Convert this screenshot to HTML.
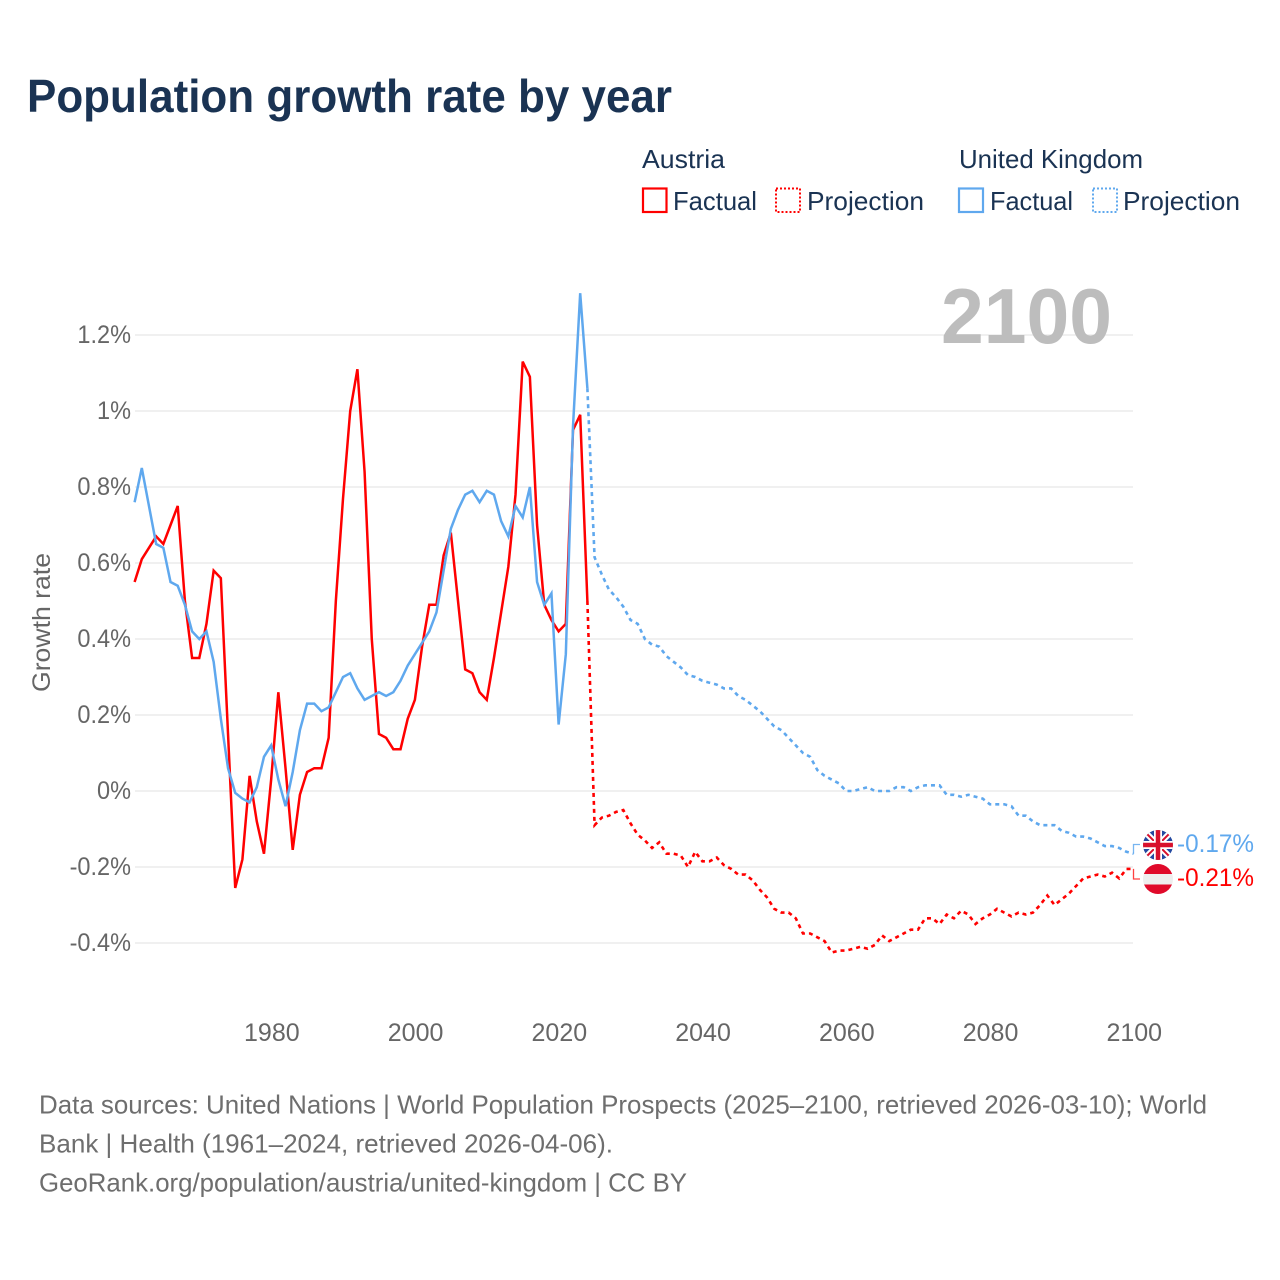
<!DOCTYPE html>
<html lang="en">
<head>
<meta charset="utf-8">
<title>Population growth rate by year</title>
<style>
html,body{margin:0;padding:0;background:#fff;}
svg{display:block;font-family:"Liberation Sans",sans-serif;}
</style>
</head>
<body>
<svg id="chart" xmlns="http://www.w3.org/2000/svg" width="1280" height="1280" viewBox="0 0 1280 1280">
  <rect width="1280" height="1280" fill="#ffffff"/>
  <text x="27" y="112" font-size="46" font-weight="700" fill="#1a3353" textLength="645" lengthAdjust="spacingAndGlyphs">Population growth rate by year</text>

  <g font-size="26" fill="#1a3353">
    <text x="642" y="168" textLength="83" lengthAdjust="spacingAndGlyphs">Austria</text>
    <text x="959" y="168" textLength="184" lengthAdjust="spacingAndGlyphs">United Kingdom</text>
    <rect x="643" y="188.500" width="23.500" height="23.500" fill="none" stroke="#ff0000" stroke-width="2.200"/>
    <text x="673" y="210" textLength="84" lengthAdjust="spacingAndGlyphs">Factual</text>
    <rect x="776" y="188.500" width="24" height="23.500" fill="none" stroke="#ff0000" stroke-width="2" stroke-dasharray="2 2"/>
    <text x="807" y="210" textLength="117" lengthAdjust="spacingAndGlyphs">Projection</text>
    <rect x="959" y="188.500" width="24" height="23.500" fill="none" stroke="#5fa8ee" stroke-width="2.200"/>
    <text x="990" y="210" textLength="83" lengthAdjust="spacingAndGlyphs">Factual</text>
    <rect x="1093" y="188.500" width="24" height="23.500" fill="none" stroke="#5fa8ee" stroke-width="2" stroke-dasharray="2 2"/>
    <text x="1123" y="210" textLength="117" lengthAdjust="spacingAndGlyphs">Projection</text>
  </g>

  <g id="grid"></g>
  <g id="yticks" font-size="25" fill="#666666" text-anchor="end"></g>
  <g id="xticks" font-size="25" fill="#666666" text-anchor="middle"></g>
  <text transform="translate(50 622.500) rotate(-90)" text-anchor="middle" font-size="25" fill="#666666" textLength="139" lengthAdjust="spacingAndGlyphs">Growth rate</text>
  <text x="941" y="343" font-size="78" font-weight="700" fill="#bdbdbd" textLength="171" lengthAdjust="spacingAndGlyphs">2100</text>

  <g id="series"></g>

  <defs>
    <clipPath id="clip-uk"><circle cx="1158" cy="845" r="15"/></clipPath>
    <clipPath id="clip-at"><circle cx="1158" cy="879" r="15"/></clipPath>
  </defs>
  <g clip-path="url(#clip-uk)">
    <rect x="1143" y="830" width="30" height="30" fill="#2449a0"/>
    <path d="M1143 830L1173 860M1173 830L1143 860" stroke="#ffffff" stroke-width="6"/>
    <path d="M1143 830L1173 860M1173 830L1143 860" stroke="#d8102c" stroke-width="2"/>
    <path d="M1158 830V860M1143 845H1173" stroke="#ffffff" stroke-width="8"/>
    <path d="M1158 830V860M1143 845H1173" stroke="#d8102c" stroke-width="4.500"/>
  </g>
  <g clip-path="url(#clip-at)">
    <rect x="1143" y="864" width="30" height="10" fill="#e00a2a"/>
    <rect x="1143" y="874" width="30" height="10.500" fill="#eeeeee"/>
    <rect x="1143" y="884.500" width="30" height="10" fill="#e00a2a"/>
  </g>
  <g id="endlabels" font-size="25"></g>

  <g font-size="26" fill="#6e6e6e">
    <text x="39" y="1113.500" textLength="1168" lengthAdjust="spacingAndGlyphs">Data sources: United Nations | World Population Prospects (2025–2100, retrieved 2026-03-10); World</text>
    <text x="39" y="1152.500" textLength="574" lengthAdjust="spacingAndGlyphs">Bank | Health (1961–2024, retrieved 2026-04-06).</text>
    <text x="39" y="1191.500" textLength="648" lengthAdjust="spacingAndGlyphs">GeoRank.org/population/austria/united-kingdom | CC BY</text>
  </g>
</svg>
<script>
const firstYear = 1961;
const lastFactualYear = 2024;
const xTickYears = [1980, 2000, 2020, 2040, 2060, 2080, 2100];
const yTickValues = [1.2, 1, 0.8, 0.6, 0.4, 0.2, 0, -0.2, -0.4];
const yTickLabels = ['1.2%', '1%', '0.8%', '0.6%', '0.4%', '0.2%', '0%', '-0.2%', '-0.4%'];
const austriaFactual = [0.55,0.61,0.64,0.67,0.65,0.70,0.75,0.50,0.35,0.35,0.44,0.58,0.56,0.15,-0.255,-0.18,0.04,-0.08,-0.165,0.03,0.26,0.06,-0.155,-0.01,0.05,0.06,0.06,0.14,0.50,0.77,1.00,1.11,0.84,0.40,0.15,0.14,0.11,0.11,0.19,0.24,0.38,0.49,0.49,0.62,0.68,0.50,0.32,0.31,0.26,0.24,0.35,0.47,0.59,0.78,1.13,1.09,0.70,0.49,0.45,0.42,0.44,0.95,0.99,0.50];
const austriaProjection = [0.50,-0.09,-0.07,-0.065,-0.055,-0.05,-0.085,-0.115,-0.13,-0.15,-0.135,-0.165,-0.165,-0.17,-0.20,-0.16,-0.185,-0.185,-0.175,-0.195,-0.205,-0.22,-0.22,-0.235,-0.26,-0.28,-0.31,-0.32,-0.32,-0.335,-0.375,-0.375,-0.385,-0.395,-0.425,-0.42,-0.42,-0.415,-0.41,-0.415,-0.405,-0.38,-0.395,-0.385,-0.375,-0.365,-0.365,-0.335,-0.335,-0.35,-0.325,-0.335,-0.315,-0.325,-0.35,-0.335,-0.325,-0.31,-0.32,-0.33,-0.32,-0.325,-0.32,-0.30,-0.275,-0.30,-0.285,-0.27,-0.25,-0.23,-0.225,-0.22,-0.225,-0.215,-0.23,-0.205,-0.205];
const ukFactual = [0.76,0.85,0.75,0.65,0.64,0.55,0.54,0.49,0.42,0.40,0.42,0.34,0.19,0.06,-0.005,-0.02,-0.03,0.01,0.09,0.12,0.03,-0.04,0.05,0.16,0.23,0.23,0.21,0.22,0.26,0.30,0.31,0.27,0.24,0.25,0.26,0.25,0.26,0.29,0.33,0.36,0.39,0.42,0.47,0.58,0.69,0.74,0.78,0.79,0.76,0.79,0.78,0.71,0.67,0.75,0.72,0.80,0.55,0.49,0.52,0.175,0.36,0.96,1.31,1.06];
const ukProjection = [1.06,0.615,0.57,0.53,0.51,0.485,0.45,0.44,0.40,0.385,0.38,0.355,0.34,0.325,0.305,0.30,0.29,0.285,0.28,0.27,0.27,0.25,0.24,0.225,0.21,0.19,0.17,0.16,0.14,0.12,0.10,0.09,0.055,0.04,0.03,0.02,0.0,0.0,0.005,0.01,0.0,0.0,0.0,0.01,0.01,0.0,0.01,0.015,0.015,0.015,-0.01,-0.01,-0.015,-0.01,-0.015,-0.02,-0.035,-0.035,-0.035,-0.04,-0.065,-0.065,-0.08,-0.09,-0.09,-0.09,-0.105,-0.11,-0.12,-0.12,-0.125,-0.135,-0.145,-0.145,-0.15,-0.16,-0.165];
const endLabelTexts = ['-0.17%', '-0.21%'];

const NS = 'http://www.w3.org/2000/svg';
const xOf = year => 134.6 + (year - firstYear) * 7.187;
const yOf = value => 791 - value * 380;
const el = (tag, attrs, parent) => {
  const node = document.createElementNS(NS, tag);
  for (const key in attrs) node.setAttribute(key, attrs[key]);
  parent.appendChild(node);
  return node;
};
const gridGroup = document.getElementById('grid');
const yTickGroup = document.getElementById('yticks');
const xTickGroup = document.getElementById('xticks');
const seriesGroup = document.getElementById('series');
const endGroup = document.getElementById('endlabels');

yTickValues.forEach((value, i) => {
  const line = el('line', {x1: 135, x2: 1133, y1: yOf(value), y2: yOf(value), stroke: '#ececec', 'stroke-width': 1.5}, gridGroup);
  
  
  const label = el('text', {x: 131, y: yOf(value) + 8}, yTickGroup);
  
  
  label.textContent = yTickLabels[i];
  label.setAttribute('lengthAdjust', 'spacingAndGlyphs');
  label.setAttribute('textLength', (label.getComputedTextLength() * 0.94).toFixed(1));
});
xTickYears.forEach(year => {
  const label = el('text', {x: xOf(year) + 0.7, y: 1041}, xTickGroup);
  
  
  label.textContent = String(year);
});

const pathFrom = (values, startYear) =>
  values.map((v, i) => (i ? 'L' : 'M') + xOf(startYear + i).toFixed(2) + ' ' + yOf(v).toFixed(2)).join('');

const austriaColor = '#ff0000';
const ukColor = '#5fa8ee';

const atLine = el('path', {d: pathFrom(austriaFactual, firstYear), fill: 'none', stroke: austriaColor, 'stroke-width': 2.5, 'stroke-linejoin': 'miter'}, seriesGroup);


const atProj = el('path', {d: pathFrom(austriaProjection, lastFactualYear), fill: 'none', stroke: austriaColor, 'stroke-width': 2.6, 'stroke-dasharray': '4 4'}, seriesGroup);


const ukLine = el('path', {d: pathFrom(ukFactual, firstYear), fill: 'none', stroke: ukColor, 'stroke-width': 2.5, 'stroke-linejoin': 'miter'}, seriesGroup);


const ukProj = el('path', {d: pathFrom(ukProjection, lastFactualYear), fill: 'none', stroke: ukColor, 'stroke-width': 2.6, 'stroke-dasharray': '4 4'}, seriesGroup);



const ukConnector = el('path', {d: 'M1133.500 ' + yOf(ukProjection[ukProjection.length - 1]).toFixed(1) + 'V844.500H1140', fill: 'none', stroke: ukColor, 'stroke-width': 1.300, 'stroke-opacity': 0.85}, endGroup);


const atConnector = el('path', {d: 'M1133.500 ' + yOf(austriaProjection[austriaProjection.length - 1]).toFixed(1) + 'V879H1140', fill: 'none', stroke: austriaColor, 'stroke-width': 1.300, 'stroke-opacity': 0.75}, endGroup);



const ukEnd = el('text', {x: 1177, y: 852, fill: ukColor, textLength: 77, lengthAdjust: 'spacingAndGlyphs'}, endGroup);


ukEnd.textContent = endLabelTexts[0];
const atEnd = el('text', {x: 1177, y: 886, fill: austriaColor, textLength: 77, lengthAdjust: 'spacingAndGlyphs'}, endGroup);


atEnd.textContent = endLabelTexts[1];
</script>
</body>
</html>
